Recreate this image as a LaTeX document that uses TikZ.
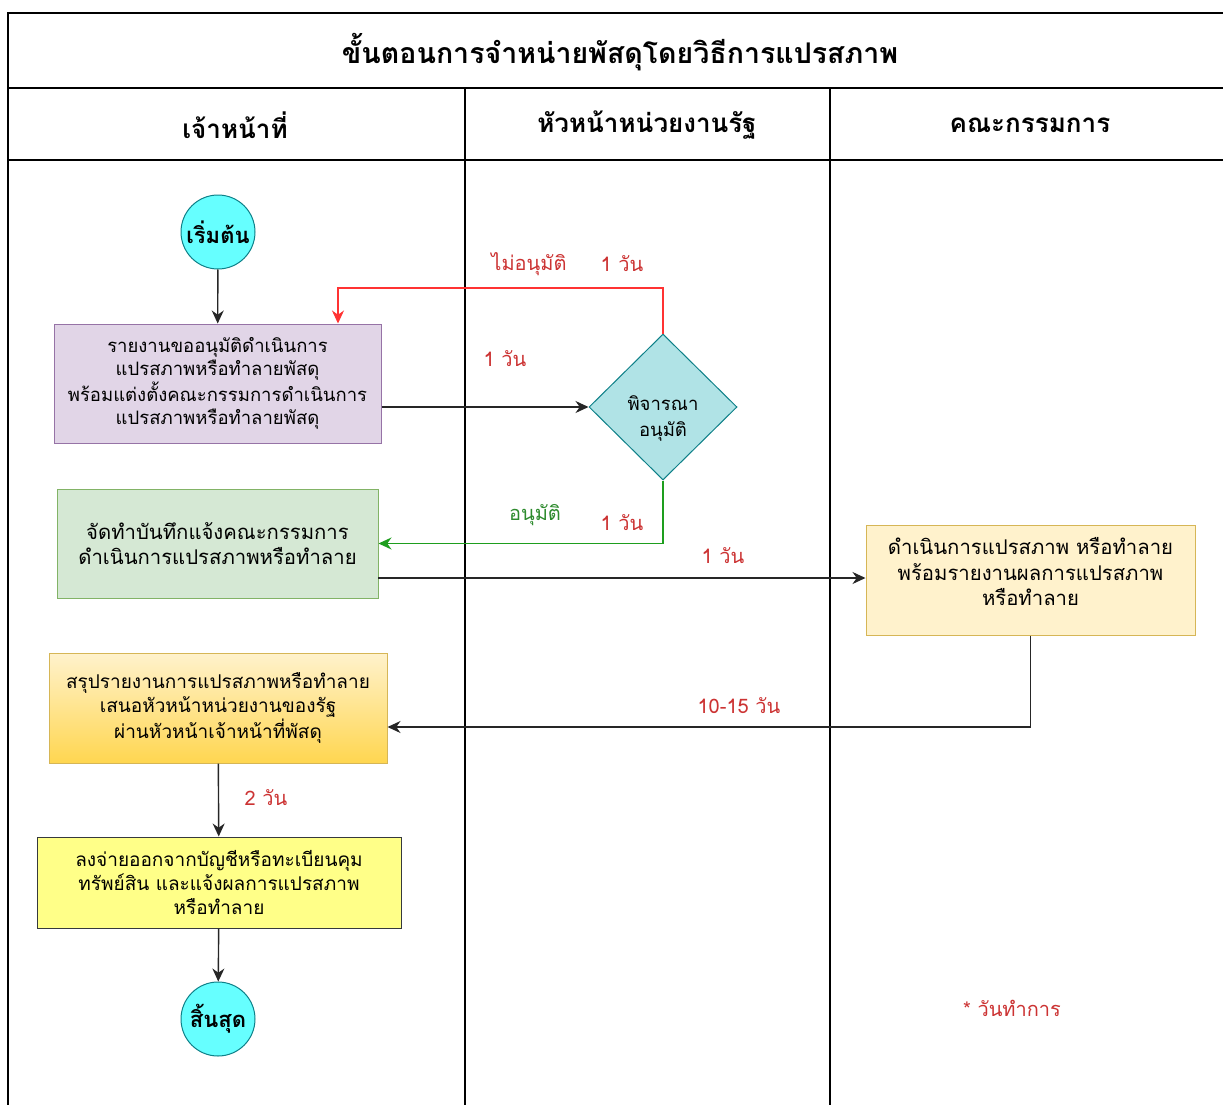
\documentclass[tikz,border=0pt]{standalone}
\usepackage{fontspec}
\setmainfont[Script=Thai]{Loma}
\usetikzlibrary{arrows.meta,shapes.geometric}
\definecolor{lblred}{HTML}{CC3333}
\definecolor{loopred}{HTML}{FF3333}
\definecolor{okgreen}{HTML}{1E9E1E}
\definecolor{lblgreen}{HTML}{2E8B2E}
\definecolor{termfill}{HTML}{66FFFF}
\definecolor{termdraw}{HTML}{0E8088}
\definecolor{purplefill}{HTML}{E1D5E7}
\definecolor{purpledraw}{HTML}{9673A6}
\definecolor{tealfill}{HTML}{B0E3E6}
\definecolor{tealdraw}{HTML}{0E8088}
\definecolor{greenfill}{HTML}{D5E8D4}
\definecolor{greendraw}{HTML}{82B366}
\definecolor{creamfill}{HTML}{FFF2CC}
\definecolor{creamdraw}{HTML}{D6B656}
\definecolor{goldbottom}{HTML}{FFD650}
\definecolor{lemonfill}{HTML}{FFFF88}
\definecolor{darkdraw}{HTML}{36393D}
\tikzset{
  lane/.style={line width=1.4pt, draw=black},
  flow/.style={line width=1.4pt, draw=black!85, -{Stealth[length=13pt,width=12pt]}},
  procbox/.style={rectangle, draw, line width=1pt, align=center, inner sep=4pt,
    font=\fontsize{18.5}{23.5}\selectfont},
  bigtext/.style={font=\fontsize{20.3}{25.5}\selectfont},
  midtext/.style={font=\fontsize{19}{24}\selectfont},
  terminal/.style={circle, draw=termdraw, line width=1pt, fill=termfill,
    minimum size=74pt, inner sep=0pt, font=\fontsize{22}{24}\selectfont\bfseries},
  daylbl/.style={text=lblred, font=\fontsize{20}{22}\selectfont},
  hdr/.style={font=\fontsize{26}{30}\selectfont\bfseries},
}
\begin{document}
\begin{tikzpicture}[x=1pt,y=-1pt]
\useasboundingbox (0,0) rectangle (1223,1105);
\fill[white] (0,0) rectangle (1223,1105);

% swimlane frame
\draw[lane] (1223,13) -- (8,13) -- (8,1105);
\draw[lane] (8,88) -- (1223,88);
\draw[lane] (8,160) -- (1223,160);
\draw[lane] (465,88) -- (465,1105);
\draw[lane] (830,88) -- (830,1105);

\node[font=\fontsize{28.5}{32}\selectfont\bfseries] (title) at (620,52) {ขั้นตอนการจำหน่ายพัสดุโดยวิธีการแปรสภาพ};
\node[hdr] (h1) at (235,125) {เจ้าหน้าที่};
\node[hdr] (h2) at (647,125) {หัวหน้าหน่วยงานรัฐ};
\node[hdr] (h3) at (1030,125) {คณะกรรมการ};

% flow nodes
\node[terminal] (start) at (218,232) {เริ่มต้น};
\node[procbox, fill=purplefill, draw=purpledraw,
  minimum width=327pt, minimum height=119pt] (req) at (217.5,383.5)
  {รายงานขออนุมัติดำเนินการ\\แปรสภาพหรือทำลายพัสดุ\\พร้อมแต่งตั้งคณะกรรมการดำเนินการ\\แปรสภาพหรือทำลายพัสดุ};
\node[diamond, draw=tealdraw, line width=1pt, fill=tealfill,
  minimum width=148pt, minimum height=146pt, inner sep=0pt] (dec) at (663,407) {};
\node[align=center, font=\fontsize{18.5}{26}\selectfont] (dectext) at ([yshift=-11pt]dec.center)
  {พิจารณา\\อนุมัติ};
\node[procbox, bigtext, fill=greenfill, draw=greendraw,
  minimum width=321pt, minimum height=109pt] (memo) at (217.5,543.5)
  {จัดทำบันทึกแจ้งคณะกรรมการ\\ดำเนินการแปรสภาพหรือทำลาย};
\node[procbox, bigtext, fill=creamfill, draw=creamdraw,
  minimum width=329pt, minimum height=110pt] (act) at (1030.5,580)
  {\raisebox{5pt}[\height][\depth]{\begin{tabular}{@{}c@{}}ดำเนินการแปรสภาพ หรือทำลาย\\พร้อมรายงานผลการแปรสภาพ\\หรือทำลาย\end{tabular}}};
\node[procbox, midtext, top color=creamfill, bottom color=goldbottom, draw=creamdraw,
  minimum width=338pt, minimum height=110pt] (sum) at (218,708)
  {สรุปรายงานการแปรสภาพหรือทำลาย\\เสนอหัวหน้าหน่วยงานของรัฐ\\ผ่านหัวหน้าเจ้าหน้าที่พัสดุ};
\node[procbox, midtext, fill=lemonfill, draw=darkdraw,
  minimum width=364pt, minimum height=91pt] (wo) at (219,882.5)
  {ลงจ่ายออกจากบัญชีหรือทะเบียนคุม\\ทรัพย์สิน และแจ้งผลการแปรสภาพ\\หรือทำลาย};
\node[terminal] (stop) at (218,1019) {สิ้นสุด};

% bend points
\coordinate (rejbend) at (338,288);
\coordinate (toact) at (378,578);

% connectors
\draw[flow] (start) -- (req);
\draw[flow] (req.east |- dec.west) -- (dec.west);
\draw[flow, draw=loopred] (dec.north) |- (rejbend) -- (rejbend |- req.north);
\draw[flow, draw=okgreen] (dec.south) |- (memo.east);
\draw[flow] (toact) -- (toact -| act.west);
\draw[flow] (act.south) |- ([yshift=-19pt]sum.east);
\draw[flow] (sum) -- (wo);
\draw[flow] (wo) -- (stop);

% labels
\node[daylbl] (l1) at (529,264) {ไม่อนุมัติ};
\node[daylbl] (l2) at (622,264) {1 วัน};
\node[daylbl] (l3) at (505,359) {1 วัน};
\node[daylbl, text=lblgreen] (l4) at (535,515) {อนุมัติ};
\node[daylbl] (l5) at (622,523) {1 วัน};
\node[daylbl] (l6) at (723,556) {1 วัน};
\node[daylbl] (l7) at (739,706) {10-15 วัน};
\node[daylbl] (l8) at (266,798) {2 วัน};
\node[daylbl] (note) at (1012,1008) {* วันทำการ};
\end{tikzpicture}
\end{document}
